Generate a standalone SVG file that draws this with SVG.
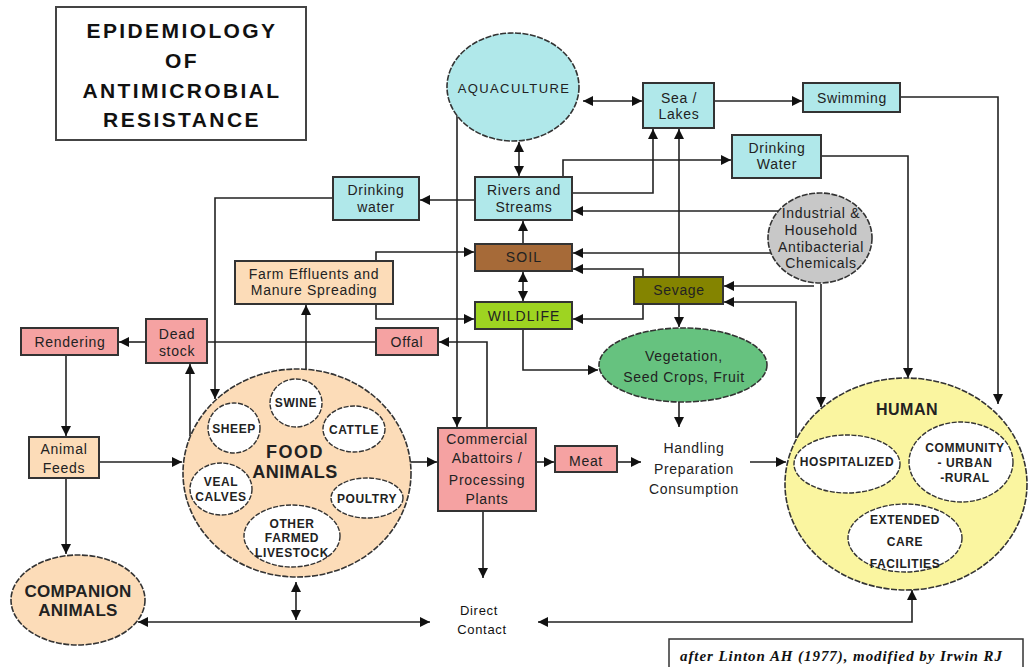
<svg xmlns="http://www.w3.org/2000/svg" width="1028" height="667" viewBox="0 0 1028 667">
<defs>
<marker id="ah" viewBox="0 0 10 10" refX="10" refY="5" markerWidth="10" markerHeight="10" markerUnits="userSpaceOnUse" orient="auto-start-reverse"><path d="M0,0 L10,5 L0,10 Z" fill="#111"/></marker>
<style>
.bx{stroke:#333;stroke-width:2}
.el{stroke:#333;stroke-width:1.6;stroke-dasharray:6 1.5}
.sub{fill:#fff;stroke:#333;stroke-width:1.4;stroke-dasharray:5 1.5}
.cyan{fill:#b0e8ea}
.pink{fill:#f5a2a2}
.peach{fill:#fcdcb8}
.t{font-family:"Liberation Sans",Arial,sans-serif;font-size:14px;letter-spacing:0.7px;fill:#222;text-anchor:middle}
.b{font-family:"Liberation Sans",Arial,sans-serif;font-weight:bold;font-size:12px;letter-spacing:0.6px;fill:#222;text-anchor:middle}
.title{font-family:"Liberation Sans",Arial,sans-serif;font-weight:bold;font-size:21px;letter-spacing:2.4px;fill:#111;text-anchor:middle}
#edges path,#edges line{fill:none;stroke:#222;stroke-width:1.6}
</style>
</defs>
<rect width="1028" height="667" fill="#fff"/>

<g id="title">
<rect x="56" y="7" width="250" height="133" fill="#fff" stroke="#444" stroke-width="2"/>
<text class="title" x="182" y="38">EPIDEMIOLOGY</text>
<text class="title" x="182" y="68">OF</text>
<text class="title" x="182" y="98">ANTIMICROBIAL</text>
<text class="title" x="182" y="127">RESISTANCE</text>
</g>

<g id="edges">
<line x1="583" y1="101" x2="642" y2="101" marker-start="url(#ah)" marker-end="url(#ah)"/>
<line x1="519" y1="142" x2="519" y2="176" marker-start="url(#ah)" marker-end="url(#ah)"/>
<line x1="457" y1="116" x2="457" y2="427" marker-end="url(#ah)"/>
<line x1="714" y1="101" x2="802" y2="101" marker-end="url(#ah)"/>
<path d="M900,97 H998 V404" marker-end="url(#ah)"/>
<path d="M821,156 H908 V378" marker-end="url(#ah)"/>
<line x1="821" y1="284" x2="821" y2="407" marker-end="url(#ah)"/>
<path d="M572,193 H653 V129" marker-end="url(#ah)"/>
<path d="M563,177 V160 H731" marker-end="url(#ah)"/>
<line x1="778" y1="211" x2="573" y2="211" marker-end="url(#ah)"/>
<line x1="771" y1="253" x2="573" y2="253" marker-end="url(#ah)"/>
<path d="M643,277 V269 H573" marker-end="url(#ah)"/>
<path d="M643,304 V319 H573" marker-end="url(#ah)"/>
<line x1="679" y1="277" x2="679" y2="129" marker-end="url(#ah)"/>
<line x1="679" y1="304" x2="679" y2="327" marker-end="url(#ah)"/>
<line x1="814" y1="286" x2="724" y2="286" marker-end="url(#ah)"/>
<path d="M796,438 V302 H724" marker-end="url(#ah)"/>
<line x1="523" y1="272" x2="523" y2="301" marker-start="url(#ah)" marker-end="url(#ah)"/>
<line x1="523" y1="244" x2="523" y2="221" marker-end="url(#ah)"/>
<path d="M376,261 V252 H474" marker-end="url(#ah)"/>
<path d="M376,304 V319 H474" marker-end="url(#ah)"/>
<line x1="475" y1="200" x2="420" y2="200" marker-end="url(#ah)"/>
<path d="M333,198 H215 V399" marker-end="url(#ah)"/>
<line x1="306" y1="369" x2="306" y2="305" marker-end="url(#ah)"/>
<line x1="376" y1="342" x2="207" y2="342"/>
<path d="M487,428 V342 H439" marker-end="url(#ah)"/>
<line x1="190" y1="436" x2="190" y2="364" marker-end="url(#ah)"/>
<line x1="146" y1="342" x2="119" y2="342" marker-end="url(#ah)"/>
<line x1="66" y1="355" x2="66" y2="436" marker-end="url(#ah)"/>
<line x1="99" y1="462" x2="182" y2="462" marker-end="url(#ah)"/>
<line x1="66" y1="478" x2="66" y2="554" marker-end="url(#ah)"/>
<line x1="410" y1="462" x2="437" y2="462" marker-end="url(#ah)"/>
<line x1="536" y1="462" x2="554" y2="462" marker-end="url(#ah)"/>
<line x1="617" y1="462" x2="641" y2="462" marker-end="url(#ah)"/>
<line x1="750" y1="462" x2="786" y2="462" marker-end="url(#ah)"/>
<line x1="679" y1="402" x2="679" y2="427" marker-end="url(#ah)"/>
<path d="M523,329 V370 H598" marker-end="url(#ah)"/>
<line x1="483" y1="511" x2="483" y2="578" marker-end="url(#ah)"/>
<line x1="296" y1="582" x2="296" y2="620" marker-start="url(#ah)" marker-end="url(#ah)"/>
<line x1="138" y1="622" x2="430" y2="622" marker-start="url(#ah)" marker-end="url(#ah)"/>
<path d="M912,590 V622 H538" marker-start="url(#ah)" marker-end="url(#ah)"/>
</g>

<g id="aquaculture">
<ellipse cx="513" cy="87" rx="66" ry="54" class="cyan el"/>
<text class="t" x="514" y="93" style="font-size:13px;letter-spacing:1.4px">AQUACULTURE</text>
</g>
<g id="sea-lakes">
<rect x="643" y="83" width="71" height="45" class="cyan bx"/>
<text class="t" x="679" y="103">Sea /</text>
<text class="t" x="679" y="119">Lakes</text>
</g>
<g id="swimming">
<rect x="803" y="83" width="97" height="29" class="cyan bx"/>
<text class="t" x="852" y="103">Swimming</text>
</g>
<g id="drinking-water-human">
<rect x="732" y="135" width="89" height="43" class="cyan bx"/>
<text class="t" x="777" y="153">Drinking</text>
<text class="t" x="777" y="169">Water</text>
</g>
<g id="industrial">
<ellipse cx="820" cy="238" rx="52" ry="45" fill="#c8c8c8" class="el"/>
<text class="t" x="821" y="218">Industrial &amp;</text>
<text class="t" x="821" y="235">Household</text>
<text class="t" x="821" y="252">Antibacterial</text>
<text class="t" x="821" y="268">Chemicals</text>
</g>
<g id="rivers">
<rect x="475" y="177" width="97" height="43" class="cyan bx"/>
<text class="t" x="524" y="195">Rivers and</text>
<text class="t" x="524" y="212">Streams</text>
</g>
<g id="drinking-water-animals">
<rect x="333" y="177" width="86" height="43" class="cyan bx"/>
<text class="t" x="376" y="195">Drinking</text>
<text class="t" x="376" y="212">water</text>
</g>
<g id="soil">
<rect x="475" y="244" width="97" height="27" fill="#a66a38" class="bx"/>
<text class="t" x="524" y="262" style="letter-spacing:1.2px">SOIL</text>
</g>
<g id="wildlife">
<rect x="475" y="302" width="97" height="27" fill="#9ed421" class="bx"/>
<text class="t" x="524" y="321" style="letter-spacing:1px">WILDLIFE</text>
</g>
<g id="sevage">
<rect x="634" y="277" width="89" height="27" fill="#848400" class="bx"/>
<text class="t" x="679" y="295">Sevage</text>
</g>
<g id="farm-effluents">
<rect x="235" y="261" width="158" height="43" class="peach bx"/>
<text class="t" x="314" y="279">Farm Effluents and</text>
<text class="t" x="314" y="295">Manure Spreading</text>
</g>
<g id="rendering">
<rect x="21" y="328" width="97" height="27" class="pink bx"/>
<text class="t" x="70" y="347">Rendering</text>
</g>
<g id="dead-stock">
<rect x="146" y="319" width="61" height="44" class="pink bx"/>
<text class="t" x="177" y="339">Dead</text>
<text class="t" x="177" y="356">stock</text>
</g>
<g id="offal">
<rect x="376" y="328" width="62" height="27" class="pink bx"/>
<text class="t" x="407" y="347">Offal</text>
</g>
<g id="vegetation">
<ellipse cx="683" cy="365" rx="84" ry="37" fill="#66c27f" class="el"/>
<text class="t" x="684" y="361">Vegetation,</text>
<text class="t" x="684" y="382">Seed Crops, Fruit</text>
</g>
<g id="animal-feeds">
<rect x="29" y="437" width="70" height="41" class="peach bx"/>
<text class="t" x="64" y="454">Animal</text>
<text class="t" x="64" y="473">Feeds</text>
</g>
<g id="food-animals">
<ellipse cx="297" cy="473" rx="114" ry="104" class="peach el"/>
<ellipse cx="296" cy="403" rx="26" ry="24" class="sub"/>
<text class="b" x="296" y="407">SWINE</text>
<ellipse cx="234" cy="428" rx="26" ry="25" class="sub"/>
<text class="b" x="234" y="433">SHEEP</text>
<ellipse cx="354" cy="429" rx="31" ry="23" class="sub"/>
<text class="b" x="354" y="434">CATTLE</text>
<ellipse cx="221" cy="489" rx="31" ry="26" class="sub"/>
<text class="b" x="221" y="486">VEAL</text>
<text class="b" x="221" y="501">CALVES</text>
<ellipse cx="367" cy="498" rx="36" ry="20" class="sub"/>
<text class="b" x="367" y="503">POULTRY</text>
<ellipse cx="292" cy="536" rx="48" ry="31" class="sub"/>
<text class="b" x="292" y="528">OTHER</text>
<text class="b" x="292" y="542">FARMED</text>
<text class="b" x="292" y="557">LIVESTOCK</text>
<text class="b" x="295" y="458" style="font-size:18px;letter-spacing:1.5px">FOOD</text>
<text class="b" x="295" y="478" style="font-size:18px;letter-spacing:0.5px">ANIMALS</text>
</g>
<g id="companion-animals">
<ellipse cx="78" cy="600" rx="67" ry="45" class="peach el"/>
<text class="b" x="78" y="597" style="font-size:17px;letter-spacing:0.3px">COMPANION</text>
<text class="b" x="78" y="616" style="font-size:17px;letter-spacing:0.3px">ANIMALS</text>
</g>
<g id="abattoirs">
<rect x="438" y="428" width="98" height="83" class="pink bx"/>
<text class="t" x="487" y="444">Commercial</text>
<text class="t" x="487" y="463">Abattoirs /</text>
<text class="t" x="487" y="485">Processing</text>
<text class="t" x="487" y="504">Plants</text>
</g>
<g id="meat">
<rect x="555" y="446" width="62" height="26" class="pink bx"/>
<text class="t" x="586" y="466">Meat</text>
</g>
<g id="handling">
<text class="t" x="694" y="453">Handling</text>
<text class="t" x="694" y="474">Preparation</text>
<text class="t" x="694" y="494">Consumption</text>
</g>
<g id="direct-contact">
<text class="t" x="479" y="615" style="font-size:13px;fill:#111">Direct</text>
<text class="t" x="482" y="634" style="font-size:13px;fill:#111">Contact</text>
</g>
<g id="human">
<ellipse cx="906" cy="484" rx="121" ry="106" fill="#faf5a0" class="el"/>
<text class="b" x="907" y="415" style="font-size:16px;letter-spacing:0.5px">HUMAN</text>
<ellipse cx="847" cy="464" rx="53" ry="29" class="sub"/>
<text class="b" x="847" y="466">HOSPITALIZED</text>
<ellipse cx="961" cy="462" rx="52" ry="40" class="sub"/>
<text class="b" x="965" y="452">COMMUNITY</text>
<text class="b" x="965" y="467">- URBAN</text>
<text class="b" x="965" y="482">-RURAL</text>
<ellipse cx="905" cy="538" rx="57" ry="34" class="sub"/>
<text class="b" x="905" y="524">EXTENDED</text>
<text class="b" x="905" y="546">CARE</text>
<text class="b" x="905" y="568">FACILITIES</text>
</g>
<g id="citation">
<rect x="669" y="639" width="354" height="40" fill="#fff" stroke="#333" stroke-width="1.5"/>
<text x="680" y="661" textLength="322" lengthAdjust="spacing" style="font-family:'Liberation Serif','Times New Roman',serif;font-style:italic;font-weight:bold;font-size:15px;fill:#111">after Linton AH (1977), modified by Irwin RJ</text>
</g>
</svg>
